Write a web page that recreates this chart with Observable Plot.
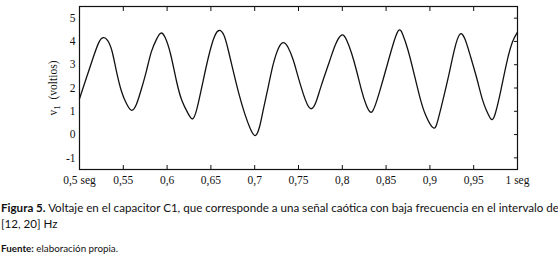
<!DOCTYPE html>
<html>
<head>
<meta charset="utf-8">
<script src="https://cdn.jsdelivr.net/npm/d3@7"></script>
<script src="https://cdn.jsdelivr.net/npm/@observablehq/plot@0.6"></script>
<style>
  html, body { margin: 0; padding: 0; background: #fff; }
  #chart { width: 558px; height: 192px; }
  .cap { font-family: Lato, "Open Sans", sans-serif; color: #111; margin: 0; padding-left: 1px; white-space: nowrap; }
  #cap1 { font-size: 11.6px; line-height: 16px; margin-top: 8px; }
  #cap2 { font-size: 9.8px; margin-top: 10px; }
</style>
</head>
<body>
<div id="chart"></div>
<p class="cap" id="cap1"><b>Figura 5.</b> Voltaje en el capacitor C1, que corresponde a una señal caótica con baja frecuencia en el intervalo de<br>[12, 20] Hz</p>
<p class="cap" id="cap2"><b>Fuente:</b> elaboración propia.</p>
<script>
// time (s)
const tiempo = [
  0.500, 0.508, 0.516, 0.522, 0.527, 0.532, 0.537, 0.542, 0.548, 0.554,
  0.5595, 0.565, 0.571, 0.5765, 0.582, 0.588, 0.593, 0.598, 0.604, 0.6107,
  0.617, 0.624, 0.629, 0.634, 0.6412, 0.648, 0.654, 0.6594, 0.665, 0.670,
  0.6754, 0.682, 0.6887, 0.695, 0.7009, 0.706, 0.710, 0.7154, 0.721, 0.727,
  0.7325, 0.738, 0.744, 0.749, 0.755, 0.760, 0.7648, 0.770, 0.776, 0.7857,
  0.792, 0.7991, 0.805, 0.8105, 0.8162, 0.822, 0.827, 0.8322, 0.837, 0.843,
  0.8505, 0.857, 0.8638, 0.869, 0.8752, 0.882, 0.8885, 0.895, 0.9038, 0.909,
  0.915, 0.9227, 0.928, 0.9341, 0.940, 0.946, 0.9532, 0.960, 0.965, 0.9703,
  0.975, 0.981, 0.9874, 0.994, 1.000
];
// v1 (voltios)
const voltaje = [
  1.54, 2.45, 3.35, 3.95, 4.16, 4.05, 3.60, 2.75, 1.85, 1.30,
  1.04, 1.30, 2.00, 2.75, 3.55, 4.10, 4.36, 4.15, 3.45, 2.30,
  1.45, 0.90, 0.67, 1.10, 2.32, 3.45, 4.20, 4.47, 4.25, 3.60,
  2.75, 1.75, 0.89, 0.25, -0.04, 0.40, 1.10, 2.04, 3.00, 3.70,
  3.95, 3.75, 3.20, 2.55, 1.80, 1.30, 1.11, 1.40, 2.10, 3.18,
  3.85, 4.27, 4.05, 3.50, 2.75, 1.90, 1.30, 0.96, 1.20, 1.90,
  2.89, 3.75, 4.45, 4.30, 3.60, 2.60, 1.61, 0.85, 0.29, 0.60,
  1.50, 2.75, 3.65, 4.30, 4.10, 3.40, 2.46, 1.50, 1.00, 0.65,
  0.95, 1.90, 3.04, 3.95, 4.40
];
const xTicks = [0.5, 0.55, 0.6, 0.65, 0.7, 0.75, 0.8, 0.85, 0.9, 0.95, 1];
const xTickLabels = ["0,5 seg", "0,55", "0,6", "0,65", "0,7", "0,75", "0,8", "0,85", "0,9", "0,95", "1 seg"];
const yTicks = [-1, 0, 1, 2, 3, 4, 5];
const yTickLabels = ["-1", "0", "1", "2", "3", "4", "5"];
const yLabel = "v1  (voltios)";

const data = tiempo.map((t, i) => ({t, v: voltaje[i]}));
const fmtX = d => xTickLabels[xTicks.indexOf(d)];
const fmtY = d => yTickLabels[yTicks.indexOf(d)];

const plot = Plot.plot({
  width: 558,
  height: 192,
  marginLeft: 79,
  marginRight: 41,
  marginTop: 6,
  marginBottom: 23,
  style: {fontFamily: "'Liberation Serif', 'DejaVu Serif', serif", fontSize: "11.5px", color: "#111", background: "#fff"},
  x: {domain: [0.5, 1]},
  y: {domain: [-1.5, 5.5]},
  marks: [
    Plot.line(data, {x: "t", y: "v", stroke: "#111", strokeWidth: 1.3, curve: "natural"}),
    Plot.axisX({anchor: "bottom", ticks: xTicks, tickFormat: fmtX, tickSize: 0, tickPadding: 6, label: null}),
    Plot.axisX({anchor: "bottom", ticks: xTicks, tickFormat: () => "", tickSize: -4, label: null}),
    Plot.axisX({anchor: "top", ticks: xTicks, tickFormat: () => "", tickSize: -4, label: null}),
    Plot.axisY({anchor: "left", ticks: yTicks, tickFormat: fmtY, tickSize: 0, tickPadding: 4, label: yLabel, labelAnchor: "center", labelOffset: 31, labelArrow: "none"}),
    Plot.axisY({anchor: "right", ticks: yTicks, tickFormat: () => "", tickSize: -4, label: null}),
    Plot.frame({stroke: "#111", strokeWidth: 1.2})
  ]
});
// render subscript in the y-axis label
d3.select(plot).selectAll("text").filter(function() { return this.textContent === yLabel; })
  .each(function() {
    const t = d3.select(this);
    t.text(null);
    t.append("tspan").text("v");
    t.append("tspan").attr("baseline-shift", "-35%").attr("font-size", "9px").text("1");
    t.append("tspan").text("  (voltios)").attr("xml:space", "preserve");
    t.attr("xml:space", "preserve");
  });
document.getElementById("chart").appendChild(plot);
</script>
</body>
</html>
